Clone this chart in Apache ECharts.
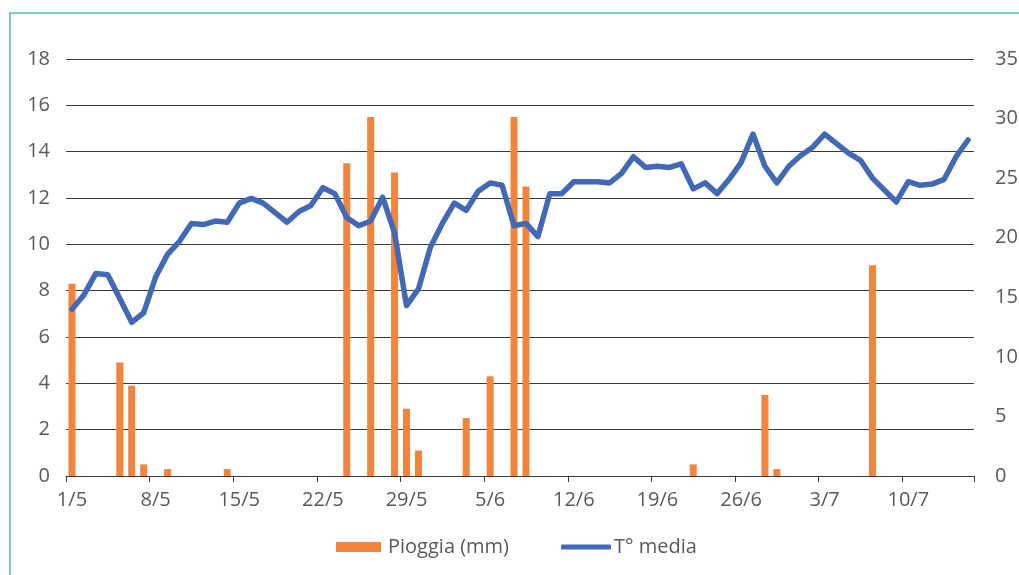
<!DOCTYPE html>
<html>
<head>
<meta charset="utf-8">
<script src="https://cdn.jsdelivr.net/npm/echarts@6/dist/echarts.min.js"></script>
<style>
html,body{margin:0;padding:0;background:#fff;}
#c{width:1019px;height:575px;}
</style>
</head>
<body>
<div id="c"></div>
<script>
var dates = ['1/5','2/5','3/5','4/5','5/5','6/5','7/5','8/5','9/5','10/5','11/5','12/5','13/5','14/5','15/5','16/5','17/5','18/5','19/5','20/5','21/5','22/5','23/5','24/5','25/5','26/5','27/5','28/5','29/5','30/5','31/5',
'1/6','2/6','3/6','4/6','5/6','6/6','7/6','8/6','9/6','10/6','11/6','12/6','13/6','14/6','15/6','16/6','17/6','18/6','19/6','20/6','21/6','22/6','23/6','24/6','25/6','26/6','27/6','28/6','29/6','30/6',
'1/7','2/7','3/7','4/7','5/7','6/7','7/7','8/7','9/7','10/7','11/7','12/7','13/7','14/7','15/7'];

var pioggia = [8.3,0,0,0,4.9,3.9,0.5,0,0.3,0,0,0,0,0.3,0,0,0,0,0,0,0,0,0,13.5,0,15.5,0,13.1,2.9,1.1,0,
0,0,2.5,0,4.3,0,15.5,12.5,0,0,0,0,0,0,0,0,0,0,0,0,0,0.5,0,0,0,0,0,3.5,0.3,0,
0,0,0,0,0,0,9.1,0,0,0,0,0,0,0,0];

var tMedia = [14.0,15.2,17.0,16.9,14.9,12.9,13.7,16.7,18.6,19.7,21.2,21.1,21.4,21.3,22.9,23.3,22.9,22.1,21.3,22.2,22.7,24.2,23.7,21.7,21.0,21.4,23.4,20.4,14.3,15.7,19.2,
21.2,22.9,22.3,23.9,24.6,24.4,21.0,21.2,20.1,23.7,23.7,24.7,24.7,24.7,24.6,25.4,26.8,25.9,26.0,25.9,26.2,24.1,24.6,23.7,24.9,26.3,28.7,26.0,24.6,26.0,
26.9,27.6,28.7,27.9,27.1,26.5,25.0,24.0,23.0,24.7,24.4,24.5,24.9,26.8,28.2];

var leftTicks = {min:0, max:18, interval:2};
var rightTicks = {min:0, max:35, interval:5};

var FONT = '"Open Sans", "Noto Sans", sans-serif';
var TXT = '#595959';
var ORANGE = '#F4833B';
var BLUE = '#4169B6';

var chart = echarts.init(document.getElementById('c'), null, {renderer:'canvas'});
chart.setOption({
  animation:false,
  backgroundColor:'#ffffff',
  textStyle:{fontFamily:FONT},
  graphic:[{
    type:'rect', silent:true,
    shape:{x:10, y:13, width:1100, height:700},
    style:{fill:'none', stroke:'#4DBFA0', lineWidth:1.5}
  }],
  grid:{left:66, right:45, top:59, bottom:99, containLabel:false, outerBoundsMode:'none'},
  legend:[{
    data:['Pioggia (mm)'],
    left:336, top:537, padding:0,
    itemWidth:45, itemHeight:10, itemGap:0,
    icon:'rect',
    textStyle:{fontSize:20, color:TXT, fontFamily:FONT, padding:[0,0,0,2]}
  },{
    data:['T° media'],
    left:561, top:537, padding:0,
    itemWidth:50, itemHeight:5,
    icon:'roundRect',
    textStyle:{fontSize:20, color:TXT, fontFamily:FONT, padding:[0,0,0,-2]}
  }],
  xAxis:{
    type:'category',
    data:dates,
    boundaryGap:true,
    axisLine:{show:true, lineStyle:{color:'#3a3a3a', width:1}},
    axisTick:{show:true, interval:6, length:6, lineStyle:{color:'#3a3a3a', width:1}},
    axisLabel:{interval:6, fontSize:20, color:TXT, fontFamily:FONT, margin:14},
    splitLine:{show:false}
  },
  yAxis:[{
    type:'value',
    min:leftTicks.min, max:leftTicks.max, interval:leftTicks.interval,
    axisLine:{show:false}, axisTick:{show:false},
    axisLabel:{fontSize:20, color:TXT, fontFamily:FONT, margin:16},
    splitLine:{show:true, lineStyle:{color:'#3a3a3a', width:1}}
  },{
    type:'value',
    min:rightTicks.min, max:rightTicks.max, interval:rightTicks.interval,
    position:'right',
    axisLine:{show:false}, axisTick:{show:false},
    axisLabel:{fontSize:20, color:TXT, fontFamily:FONT, margin:21},
    splitLine:{show:false}
  }],
  series:[{
    name:'Pioggia (mm)',
    type:'bar',
    yAxisIndex:0,
    data:pioggia,
    barWidth:7,
    itemStyle:{color:ORANGE}
  },{
    name:'T° media',
    type:'line',
    yAxisIndex:1,
    data:tMedia,
    symbol:'none',
    showSymbol:false,
    lineStyle:{color:BLUE, width:5.5, cap:'round', join:'round'},
    itemStyle:{color:BLUE}
  }]
});
</script>
</body>
</html>
